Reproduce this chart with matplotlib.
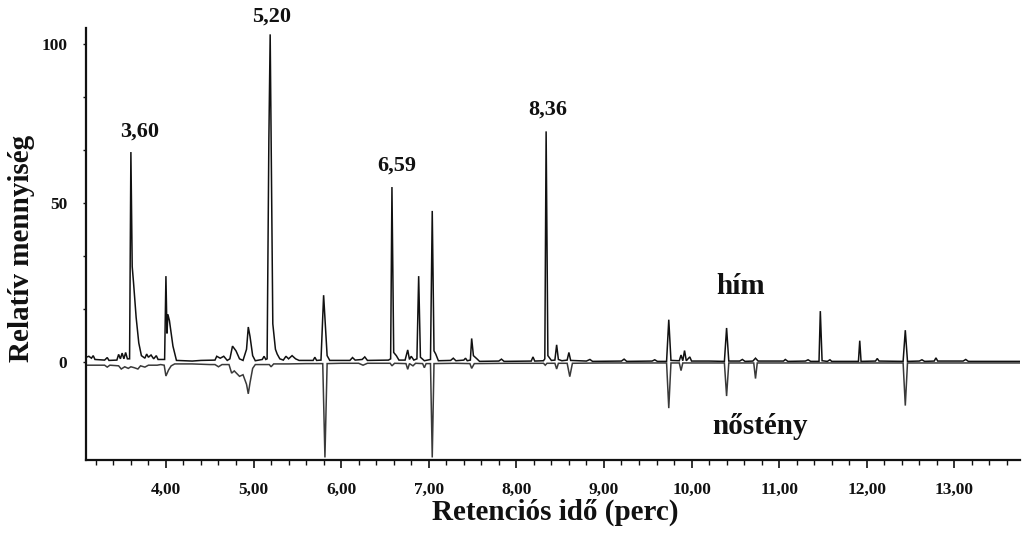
import matplotlib
matplotlib.use("Agg")
import matplotlib.pyplot as plt
from matplotlib.ticker import FixedLocator, FixedFormatter

plt.rcParams['font.family'] = ['Liberation Serif', 'DejaVu Serif']
plt.rcParams['font.weight'] = 'bold'

# ---- data ----
male_time = [3.09, 3.12, 3.15, 3.17, 3.19, 3.30, 3.33, 3.35, 3.44, 3.46, 3.48, 3.50, 3.52, 3.54, 3.56,
             3.585, 3.60, 3.615, 3.63, 3.66, 3.69, 3.72, 3.76, 3.78, 3.80, 3.83, 3.86, 3.89, 3.91,
             3.985, 4.00, 4.012, 4.022, 4.04, 4.08, 4.12, 4.30, 4.40, 4.56, 4.58, 4.62, 4.66, 4.70,
             4.73, 4.76, 4.80, 4.84, 4.88, 4.92, 4.94, 4.96, 4.99, 5.02, 5.10, 5.12, 5.14, 5.155,
             5.175, 5.19, 5.22, 5.25, 5.27, 5.30, 5.34, 5.37, 5.40, 5.44, 5.48, 5.52, 5.68, 5.70,
             5.72, 5.77, 5.80, 5.84, 5.87, 6.10, 6.13, 6.16, 6.24, 6.27, 6.30, 6.54, 6.565, 6.58,
             6.60, 6.63, 6.66, 6.73, 6.76, 6.78, 6.80, 6.83, 6.865, 6.885, 6.905, 6.95, 7.02, 7.04,
             7.06, 7.08, 7.11, 7.25, 7.28, 7.31, 7.40, 7.42, 7.44, 7.475, 7.49, 7.51, 7.55, 7.58,
             7.80, 7.83, 7.86, 8.17, 8.19, 8.21, 8.31, 8.325, 8.34, 8.36, 8.40, 8.44, 8.46, 8.48,
             8.52, 8.58, 8.60, 8.62, 8.80, 8.84, 8.87, 9.20, 9.23, 9.26, 9.55, 9.58, 9.61, 9.715,
             9.74, 9.765, 9.86, 9.88, 9.90, 9.92, 9.94, 9.98, 10.00, 10.20, 10.375, 10.40, 10.425,
             10.55, 10.58, 10.61, 10.70, 10.73, 10.76, 11.05, 11.07, 11.10, 11.30, 11.33, 11.36,
             11.455, 11.47, 11.49, 11.55, 11.58, 11.60, 11.905, 11.92, 11.935, 12.10, 12.12, 12.14,
             12.415, 12.44, 12.465, 12.60, 12.63, 12.66, 12.77, 12.79, 12.81, 13.10, 13.13, 13.16,
             13.75]
male_signal = [1.5, 1.8, 1.2, 2.0, 0.8, 0.6, 1.4, 0.5, 0.6, 2.4, 1.0, 2.8, 1.0, 3.0, 1.0,
               1.0, 66.0, 30.0, 25.0, 14.0, 6.0, 2.0, 1.2, 2.5, 1.5, 2.2, 1.0, 2.0, 0.8,
               0.8, 27.0, 9.0, 15.0, 13.0, 5.0, 0.5, 0.3, 0.5, 0.6, 1.8, 1.2, 1.8, 0.5,
               1.0, 5.0, 3.5, 1.0, 0.5, 4.0, 11.0, 8.0, 2.0, 0.4, 0.8, 1.8, 0.8, 1.0,
               70.0, 103.0, 12.0, 4.0, 2.5, 1.0, 0.6, 1.8, 1.0, 2.0, 1.0, 0.5, 0.5, 1.5,
               0.5, 0.6, 21.0, 2.0, 0.5, 0.5, 1.4, 0.6, 0.8, 1.6, 0.5, 0.6, 1.0, 55.0,
               3.0, 2.0, 0.6, 0.6, 3.8, 0.8, 1.8, 0.6, 1.0, 27.0, 1.5, 0.4, 0.8, 47.5,
               3.5, 2.5, 0.4, 0.5, 1.2, 0.4, 0.6, 1.2, 0.4, 0.6, 7.4, 2.0, 1.0, 0.2,
               0.3, 0.9, 0.2, 0.3, 1.6, 0.3, 0.4, 1.0, 72.5, 2.0, 0.5, 0.6, 5.4, 0.8,
               0.4, 0.6, 3.0, 0.5, 0.3, 0.8, 0.2, 0.3, 0.9, 0.2, 0.3, 0.7, 0.2, 0.2,
               13.3, 0.5, 0.4, 2.2, 0.4, 3.6, 0.4, 1.6, 0.3, 0.3, 0.2, 10.7, 0.3,
               0.3, 0.8, 0.2, 0.3, 1.2, 0.3, 0.3, 0.8, 0.2, 0.3, 0.7, 0.2,
               0.2, 16.0, 0.4, 0.2, 0.7, 0.2, 0.2, 6.7, 0.2, 0.3, 1.1, 0.3,
               0.2, 10.0, 0.2, 0.3, 0.7, 0.2, 0.3, 1.3, 0.3, 0.3, 0.8, 0.2,
               0.2]

female_time = [3.09, 3.30, 3.33, 3.36, 3.46, 3.49, 3.53, 3.57, 3.60, 3.64, 3.68, 3.71, 3.76, 3.80,
               3.90, 3.94, 3.98, 4.00, 4.03, 4.06, 4.10, 4.30, 4.50, 4.56, 4.60, 4.64, 4.72, 4.75,
               4.78, 4.84, 4.88, 4.92, 4.94, 4.96, 4.99, 5.02, 5.18, 5.20, 5.23, 5.40, 5.60, 5.79,
               5.815, 5.84, 6.00, 6.20, 6.25, 6.30, 6.56, 6.58, 6.61, 6.74, 6.76, 6.78, 6.82, 6.85,
               6.93, 6.95, 6.97, 7.02, 7.04, 7.06, 7.30, 7.47, 7.49, 7.52, 7.90, 8.31, 8.33, 8.35,
               8.44, 8.46, 8.48, 8.58, 8.61, 8.64, 9.00, 9.715, 9.74, 9.765, 9.86, 9.88, 9.90,
               10.375, 10.40, 10.425, 10.71, 10.73, 10.75, 11.20, 11.60, 12.415, 12.44, 12.465,
               13.00, 13.75]
female_signal = [-1.0, -1.0, -1.6, -1.0, -1.2, -2.2, -1.5, -2.0, -1.5, -1.8, -2.2, -1.2, -1.6, -1.0,
                 -1.0, -0.8, -1.0, -4.4, -2.5, -1.2, -0.6, -0.6, -0.8, -0.8, -1.5, -0.8, -0.8, -3.5,
                 -2.8, -4.5, -4.0, -7.0, -10.0, -6.5, -2.0, -0.8, -0.8, -1.5, -0.6, -0.6, -0.5, -0.5,
                 -30.0, -0.5, -0.4, -0.4, -1.0, -0.4, -0.4, -1.2, -0.4, -0.5, -2.3, -0.5, -1.2, -0.4,
                 -0.5, -1.8, -0.5, -0.5, -30.0, -0.5, -0.4, -0.5, -2.0, -0.5, -0.4, -0.4, -1.0, -0.4,
                 -0.4, -2.2, -0.4, -0.4, -4.6, -0.4, -0.3, -0.3, -14.5, -0.3, -0.3, -2.7, -0.3,
                 -0.3, -10.7, -0.3, -0.3, -5.2, -0.3, -0.3, -0.3, -0.3, -13.7, -0.3,
                 -0.3, -0.3]

x_ticks = [4, 5, 6, 7, 8, 9, 10, 11, 12, 13]
x_tick_labels = ["4,00", "5,00", "6,00", "7,00", "8,00", "9,00", "10,00", "11,00", "12,00", "13,00"]
y_ticks = [0, 50, 100]
y_tick_labels = ["0", "50", "100"]

peak_labels = ["3,60", "5,20", "6,59", "8,36"]
peak_label_x = [3.70, 5.21, 6.64, 8.36]
peak_label_y = [72.3, 108.5, 61.6, 79.2]

# ---- figure ----
fig = plt.figure(figsize=(10.22, 5.36), dpi=100)
ax = fig.add_axes([0.0841, 0.1418, 0.914, 0.806])

ax.plot(female_time, female_signal, color='#3a3a3a', lw=1.1, solid_joinstyle='miter')
ax.plot(male_time, male_signal, color='#111111', lw=1.1, solid_joinstyle='miter')

ax.set_xlim(3.087, 13.75)
ax.set_ylim(-30.8, 105)

for s in ['top', 'right']:
    ax.spines[s].set_visible(False)
for s in ['left', 'bottom']:
    ax.spines[s].set_linewidth(1.6)
    ax.spines[s].set_color('#111111')

ax.xaxis.set_major_locator(FixedLocator(x_ticks))
ax.xaxis.set_major_formatter(FixedFormatter(x_tick_labels))
minor_x = [3.2 + 0.2 * i for i in range(53)]
ax.xaxis.set_minor_locator(FixedLocator(minor_x))
ax.yaxis.set_major_locator(FixedLocator(y_ticks))
ax.yaxis.set_major_formatter(FixedFormatter(y_tick_labels))
ax.yaxis.set_minor_locator(FixedLocator([50 / 3, 100 / 3, 200 / 3, 250 / 3]))

ax.tick_params(axis='x', which='major', direction='out', length=6, width=1.2, pad=10,
               labelsize=12.5, colors='#111111')
ax.tick_params(axis='x', which='minor', direction='out', length=3.5, width=1.0, colors='#111111')
ax.tick_params(axis='y', which='both', direction='out', length=2.5, width=1.0, pad=11,
               labelsize=12.5, colors='#111111')
for lab in ax.get_xticklabels() + ax.get_yticklabels():
    lab.set_fontweight('bold')

for t, x, y in zip(peak_labels, peak_label_x, peak_label_y):
    ax.text(x, y, t, ha='center', va='center', fontsize=16, fontweight='bold',
            color='#111111', clip_on=False)

ax.text(10.56, 23.6, "hím", ha='center', va='center', fontsize=21, fontweight='bold', color='#111111')
ax.text(10.78, -20.4, "nőstény", ha='center', va='center', fontsize=21, fontweight='bold', color='#111111')

fig.text(22 / 1022, 1 - 248 / 536, "Relatív mennyiség", rotation=90, ha='center', va='center',
         fontsize=21, fontweight='bold', color='#111111')
fig.text(555 / 1022, 1 - 512 / 536, "Retenciós idő (perc)", ha='center', va='center',
         fontsize=21, fontweight='bold', color='#111111')

fig.savefig("out.png", dpi=100, facecolor='white')
